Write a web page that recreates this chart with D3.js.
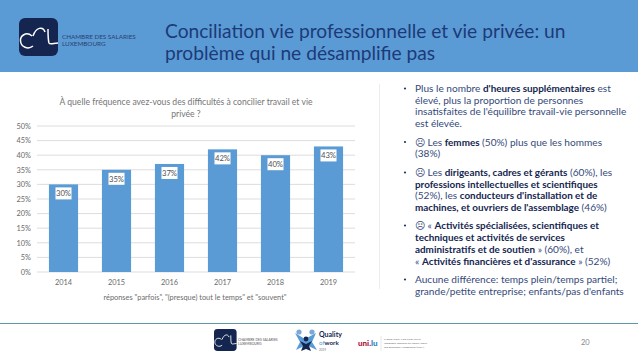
<!DOCTYPE html>
<html>
<head>
<meta charset="utf-8">
<script src="https://d3js.org/d3.v7.min.js"></script>
<style>
html, body { margin: 0; padding: 0; background: #fff; }
svg { display: block; font-family: Lato, "Open Sans", sans-serif; }
</style>
</head>
<body>
<div id="slide"></div>
<script>
const years = ["2014", "2015", "2016", "2017", "2018", "2019"];
const shares = [30, 35, 37, 42, 40, 43];
const yTicks = [0, 5, 10, 15, 20, 25, 30, 35, 40, 45, 50];

const chartTitle = ["À quelle fréquence avez-vous des difficultés à concilier travail et vie", "privée ?"];
const xLabel = "réponses \"parfois\", \"(presque) tout le temps\" et \"souvent\"";
const slideTitle = ["Conciliation vie professionnelle et vie privée: un", "problème qui ne désamplifie pas"];
const logoText = ["CHAMBRE DES SALARIES", "LUXEMBOURG"];
const uniText = ["LABORATORY FOR SCIENTIFIC", "Integrative Research on Labour, Social", "and Economic Management (ISOM)"];

// one entry per line: [text, bold] runs. bullet marks the first line of an item
const bulletLines = [
  {bullet: true, y: 92, runs: [["Plus le nombre ", 0], ["d'heures supplémentaires", 1], [" est", 0]]},
  {y: 103.5, runs: [["élevé, plus la proportion de personnes", 0]]},
  {y: 115, runs: [["insatisfaites de l'équilibre travail-vie personnelle", 0]]},
  {y: 126.5, runs: [["est élevée.", 0]]},
  {bullet: true, y: 145.5, runs: [["☹ Les ", 0], ["femmes", 1], [" (50%) plus que les hommes", 0]]},
  {y: 157, runs: [["(38%)", 0]]},
  {bullet: true, y: 176, runs: [["☹ Les ", 0], ["dirigeants, cadres et gérants", 1], [" (60%), les", 0]]},
  {y: 187.5, runs: [["professions intellectuelles et scientifiques", 1]]},
  {y: 198.5, runs: [["(52%), les ", 0], ["conducteurs d'installation et de", 1]]},
  {y: 210.5, runs: [["machines, et ouvriers de l'assemblage", 1], [" (46%)", 0]]},
  {bullet: true, y: 229, runs: [["☹ « ", 0], ["Activités spécialisées, scientifiques et", 1]]},
  {y: 241, runs: [["techniques et activités de services", 1]]},
  {y: 252.5, runs: [["administratifs et de soutien", 1], [" » (60%), et", 0]]},
  {y: 264.5, runs: [["« ", 0], ["Activités financières et d'assurance", 1], [" » (52%)", 0]]},
  {bullet: true, y: 283, runs: [["Aucune différence: temps plein/temps partiel;", 0]]},
  {y: 295, runs: [["grande/petite entreprise; enfants/pas d'enfants", 0]]}
];

const W = 638, H = 359;
const margin = {top: 126, left: 37, right: 283, bottom: 87};
const width = W - margin.left - margin.right;
const height = H - margin.top - margin.bottom;

const svg = d3.select("#slide").append("svg")
  .attr("width", W)
  .attr("height", H)
  .attr("viewBox", `0 0 ${W} ${H}`);

// header band
svg.append("rect").attr("width", W).attr("height", 72).attr("fill", "#5b9bd5");

function logo(x, y, s) {
  const g = svg.append("g").attr("transform", `translate(${x},${y}) scale(${s})`);
  g.append("rect").attr("width", 39).attr("height", 38).attr("rx", 6).attr("fill", "#14264f");
  g.append("path")
    .attr("d", "M13 18 C7 13 1 18 1.5 23 C2 29 9 32 14 28 M14 18 C17 9 24 8 26 14 M29 11 C29 18 29 22 30 25 C31 27 35 25 39 25")
    .attr("fill", "none").attr("stroke", "#fff").attr("stroke-width", 1.5);
}
logo(19, 18, 1);
svg.selectAll(".logotxt").data(logoText).join("text")
  .attr("x", 62).attr("y", (d, i) => 38.5 + i * 7)
  .attr("font-size", 6.3).attr("fill", "#2a3f70").text(d => d);

svg.selectAll(".stitle").data(slideTitle).join("text")
  .attr("x", 165).attr("y", (d, i) => 38 + i * 22)
  .attr("font-size", 19.2).attr("fill", "#1c3a78").text(d => d);

// chart
const g = svg.append("g").attr("transform", `translate(${margin.left},${margin.top})`);

const x = d3.scaleBand().domain(years).range([0, width]).paddingInner(0.45).paddingOuter(0.225);
const y = d3.scaleLinear().domain([0, 50]).range([height, 0]);

g.append("g").selectAll("line").data(yTicks).join("line")
  .attr("x1", 0).attr("x2", width)
  .attr("y1", d => y(d)).attr("y2", d => y(d))
  .attr("stroke", "#d9d9d9").attr("stroke-width", 0.9);

const yAxis = g.append("g").call(d3.axisLeft(y).tickValues(yTicks).tickSize(0).tickPadding(6).tickFormat(d => d + "%"));
yAxis.select(".domain").remove();
yAxis.selectAll("text").attr("font-family", "Lato").attr("font-size", 7.4).attr("fill", "#6b6b6b");

const xAxis = g.append("g").attr("transform", `translate(0,${height})`).call(d3.axisBottom(x).tickSize(0).tickPadding(8));
xAxis.select(".domain").remove();
xAxis.selectAll("text").attr("font-family", "Lato").attr("font-size", 7.4).attr("fill", "#6b6b6b");

g.selectAll(".bar").data(years).join("rect")
  .attr("class", "bar")
  .attr("x", d => x(d))
  .attr("width", x.bandwidth())
  .attr("y", (d, i) => y(shares[i]))
  .attr("height", (d, i) => height - y(shares[i]))
  .attr("fill", "#5b9bd5");

// value labels sit on small white boxes inside the bar tops
g.selectAll(".lblbox").data(years).join("rect")
  .attr("x", d => x(d) + x.bandwidth() / 2 - 8)
  .attr("y", (d, i) => y(shares[i]) + 3)
  .attr("width", 16).attr("height", 12).attr("fill", "#fff");
g.selectAll(".lbl").data(years).join("text")
  .attr("x", d => x(d) + x.bandwidth() / 2)
  .attr("y", (d, i) => y(shares[i]) + 12)
  .attr("text-anchor", "middle")
  .attr("font-size", 7.7).attr("fill", "#505050")
  .text((d, i) => shares[i] + "%");

svg.selectAll(".ctitle").data(chartTitle).join("text")
  .attr("x", 186).attr("y", (d, i) => 105 + i * 12)
  .attr("text-anchor", "middle")
  .attr("font-size", 8.6).attr("fill", "#757575").text(d => d);

svg.append("text").attr("x", 195).attr("y", 299.5)
  .attr("text-anchor", "middle")
  .attr("font-size", 7.4).attr("fill", "#6b6b6b").text(xLabel);

// separator and bullets
svg.append("line").attr("x1", 379.5).attr("x2", 379.5).attr("y1", 84).attr("y2", 289)
  .attr("stroke", "#ececec").attr("stroke-width", 1);

const lines = svg.append("g").selectAll("text").data(bulletLines).join("text")
  .attr("x", 415).attr("y", d => d.y);
lines.selectAll("tspan").data(d => d.runs).join("tspan")
  .attr("font-weight", d => d[1] ? 700 : 400)
  .attr("font-size", d => d[1] ? 9.9 : 10.1)
  .attr("fill", d => d[1] ? "#14264f" : "#34497a")
  .text(d => d[0]);
svg.append("g").selectAll("circle").data(bulletLines.filter(d => d.bullet)).join("circle")
  .attr("cx", 405).attr("cy", d => d.y - 3.5).attr("r", 1.1).attr("fill", "#1f3864");

// footer
svg.append("line").attr("x1", 0).attr("x2", W).attr("y1", 323.5).attr("y2", 323.5)
  .attr("stroke", "#5f97a8").attr("stroke-width", 1);
logo(214, 329, 0.58);
svg.selectAll(".flogotxt").data(logoText).join("text")
  .attr("x", 238).attr("y", (d, i) => 341 + i * 3.6)
  .attr("font-size", 3.4).attr("fill", "#555").text(d => d);

// quality of work logo, little figures then the wordmark
const fig = svg.append("g");
fig.append("path").attr("d", "M295 333 L305 339 L316 333 L312 342 L317 350 L306 345 L296 350 L300 342 Z").attr("fill", "#5b9bd5");
fig.append("circle").attr("cx", 299).attr("cy", 332).attr("r", 2.6).attr("fill", "#7aa9d8");
fig.append("circle").attr("cx", 312).attr("cy", 332).attr("r", 2.6).attr("fill", "#7aa9d8");
fig.append("circle").attr("cx", 306).attr("cy", 339).attr("r", 2.4).attr("fill", "#14264f");
fig.append("path").attr("d", "M300 341 L306 344 L312 341 L309 346 L311 351 L306 349 L301 351 L303 346 Z").attr("fill", "#14264f");
svg.append("text").attr("x", 319).attr("y", 337).attr("font-size", 7).attr("font-weight", 700).attr("fill", "#14264f").text("Quality");
svg.append("text").attr("x", 319).attr("y", 344.5).attr("font-size", 6.2)
  .selectAll("tspan").data([["of", 400, "#5b9bd5"], ["work", 700, "#14264f"]]).join("tspan")
  .attr("font-weight", d => d[1]).attr("fill", d => d[2]).text(d => d[0]);
svg.append("text").attr("x", 319).attr("y", 350.5).attr("font-size", 3).attr("fill", "#777").text("2019");

// uni.lu logo
svg.append("text").attr("x", 358).attr("y", 346).attr("font-size", 8).attr("font-weight", 900)
  .selectAll("tspan").data([["uni.", "#a8123e"], ["lu", "#2b7fb8"]]).join("tspan")
  .attr("fill", d => d[1]).text(d => d[0]);
svg.append("line").attr("x1", 381).attr("x2", 381).attr("y1", 336).attr("y2", 351).attr("stroke", "#ddd").attr("stroke-width", 0.7);
svg.selectAll(".unitxt").data(uniText).join("text")
  .attr("x", 384).attr("y", (d, i) => 340 + i * 3.8)
  .attr("font-size", 2.6).attr("fill", "#666").text(d => d);

svg.append("text").attr("x", 581).attr("y", 345).attr("font-size", 7.5).attr("fill", "#888").text("20");
</script>
</body>
</html>
